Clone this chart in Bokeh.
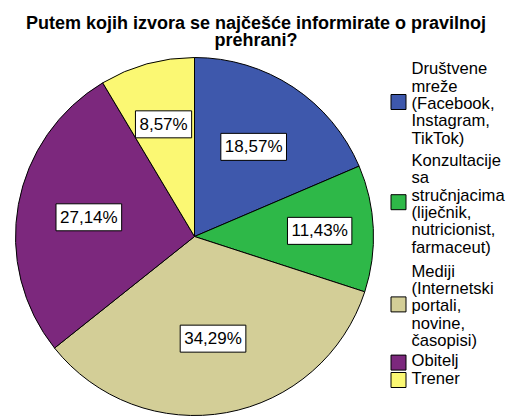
import math
from bokeh.plotting import figure
from bokeh.models import Range1d, ColumnDataSource, Label
from bokeh.core.properties import value
from bokeh.embed import file_html
from bokeh.resources import INLINE

# ---- data ----
categories = [
    ["Društvene", "mreže", "(Facebook,", "Instagram,", "TikTok)"],
    ["Konzultacije", "sa", "stručnjacima", "(liječnik,", "nutricionist,", "farmaceut)"],
    ["Mediji", "(Internetski", "portali,", "novine,", "časopisi)"],
    ["Obitelj"],
    ["Trener"],
]
percents = [18.57, 11.43, 34.29, 27.14, 8.57]
pct_labels = ["18,57%", "11,43%", "34,29%", "27,14%", "8,57%"]
colors = ["#3E58AC", "#2EB848", "#D3CE97", "#7C287D", "#FBF873"]
title_lines = ["Putem kojih izvora se najčešće informirate o pravilnoj", "prehrani?"]

# ---- styling / layout ----
W, H = 511, 416
FONT = "Liberation Sans"
cx, cy, R = 194, H - 236, 179
label_r = [0.60, 0.70, 0.58, 0.60, 0.65]
leg_first_baseline = 75.7
leg_pitch = 17.4
leg_extra_gap = [4.5, 6.5, 2.5, 0.0]
baseline_fix = 7.5

p = figure(width=W, height=H, x_range=Range1d(0, W), y_range=Range1d(0, H),
           toolbar_location=None, output_backend="svg", min_border=0)
p.axis.visible = False
p.grid.visible = False
p.outline_line_color = None
p.background_fill_color = "white"
p.border_fill_color = "white"

total = sum(percents)
starts, ends, lx, ly = [], [], [], []
acc = 0.0
for i, v in enumerate(percents):
    a0 = math.pi / 2 - 2 * math.pi * acc / total
    a1 = math.pi / 2 - 2 * math.pi * (acc + v) / total
    starts.append(a0)
    ends.append(a1)
    mid = (a0 + a1) / 2
    lx.append(cx + label_r[i] * R * math.cos(mid))
    ly.append(cy + label_r[i] * R * math.sin(mid))
    acc += v

src = ColumnDataSource(dict(start=starts, end=ends, color=colors,
                            lx=lx, ly=ly, lab=pct_labels))
p.wedge(x=cx, y=cy, radius=R, start_angle="start", end_angle="end",
        direction="clock", fill_color="color", line_color="black",
        line_width=1, source=src)

p.text(x="lx", y="ly", text="lab", source=src, text_font=value(FONT),
       text_font_size="17px", text_align="center", text_baseline="middle",
       text_color="black", background_fill_color="white",
       border_line_color="black", border_line_width=1, padding=4)

# ---- legend (manual, multi-line entries, one text per line) ----
sq_x, tx_x = 398, 411
tx, ty, tt, sy = [], [], [], []
base = leg_first_baseline
for k, lines in enumerate(categories):
    bl = [base + j * leg_pitch for j in range(len(lines))]
    for j, t in enumerate(lines):
        tx.append(tx_x)
        ty.append(H - (bl[j] - baseline_fix))
        tt.append(t)
    mid_bl = sum(bl) / len(bl)
    sy.append(H - (mid_bl - 5.5 - (3.5 if len(lines) > 1 else 0)))
    if k < len(leg_extra_gap):
        base = bl[-1] + leg_pitch + leg_extra_gap[k]

leg_sq = ColumnDataSource(dict(x=[sq_x] * len(colors), y=sy, color=colors))
p.scatter(x="x", y="y", marker="square", size=15, fill_color="color",
          line_color="black", line_width=1, source=leg_sq)
leg_tx = ColumnDataSource(dict(x=tx, y=ty, text=tt))
p.text(x="x", y="y", text="text", source=leg_tx, text_font=value(FONT),
       text_font_size="16.6px", text_align="left", text_baseline="alphabetic",
       text_color="black")

# ---- title ----
for k, t in enumerate(title_lines):
    p.add_layout(Label(x=W / 2, y=H - (30 - baseline_fix) - k * 16.6,
                       x_units="screen", y_units="screen",
                       text=t, text_font=FONT, text_font_style="bold",
                       text_font_size="18px", text_align="center",
                       text_baseline="alphabetic", text_color="black"))

open("out.html", "w").write(file_html(p, INLINE))
